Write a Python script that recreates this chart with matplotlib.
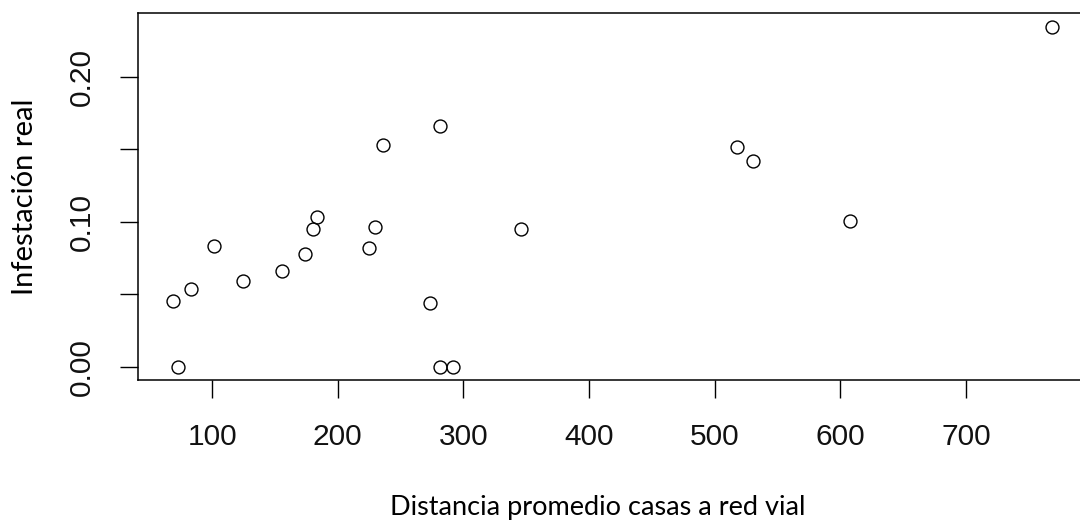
import matplotlib
matplotlib.use("Agg")
import matplotlib.pyplot as plt

# distance from houses to road network vs observed infestation
distancia = [69.0, 72.5, 82.8, 101.6, 124.7, 155.5, 174.0, 180.2, 183.6,
             225.0, 229.8, 235.9, 273.3, 281.0, 281.3, 291.9, 346.0,
             517.7, 530.2, 607.4, 768.7]
infestacion = [0.0455, 0.0, 0.0535, 0.0832, 0.0591, 0.0658, 0.0777, 0.0949, 0.1034,
               0.0816, 0.0961, 0.1529, 0.0440, 0.1661, 0.0, 0.0, 0.0952,
               0.1513, 0.1418, 0.1005, 0.2345]

x_ticks = [100, 200, 300, 400, 500, 600, 700]
y_ticks = [0.0, 0.05, 0.10, 0.15, 0.20]
y_tick_labels = ["0.00", "", "0.10", "", "0.20"]

W, H = 1080, 522
fig = plt.figure(figsize=(W / 100, H / 100), dpi=100)
# box runs a bit past the right edge, like the cropped original
ax = fig.add_axes([138 / W, 1 - 380.3 / H, (1087.5 - 138) / W, (380.3 - 13) / H])

ax.plot(distancia, infestacion, linestyle="none", marker="o", markersize=9.3,
        markerfacecolor="none", markeredgecolor="black", markeredgewidth=1.0)

# R-style 4% padding
xr = max(distancia) - min(distancia)
yr = max(infestacion) - min(infestacion)
ax.set_xlim(min(distancia) - 0.04 * xr, max(distancia) + 0.04 * xr)
ax.set_ylim(min(infestacion) - 0.04 * yr, max(infestacion) + 0.04 * yr)

ax.set_xticks(x_ticks)
ax.set_xticklabels([str(t) for t in x_ticks])
ax.set_yticks(y_ticks)
ax.set_yticklabels(y_tick_labels, rotation=90, va="center")

for s in ax.spines.values():
    s.set_linewidth(1.1)

ax.tick_params(axis="both", direction="out", length=13, width=1.0,
               colors="black", labelcolor="#111111")
ax.tick_params(axis="x", pad=17.5)
ax.tick_params(axis="y", pad=17.5)
for lab in ax.get_xticklabels() + ax.get_yticklabels():
    lab.set_fontfamily("Liberation Sans")
    lab.set_fontsize(21.5)

fig.text(598 / W, 1 - 508 / H, "Distancia promedio casas a red vial",
         family="Lato", fontsize=19.5, ha="center", va="center")
fig.text(25 / W, 1 - 197 / H, "Infestación real", family="Lato", fontsize=21,
         rotation=90, ha="center", va="center")

fig.savefig("out.png", dpi=100)
